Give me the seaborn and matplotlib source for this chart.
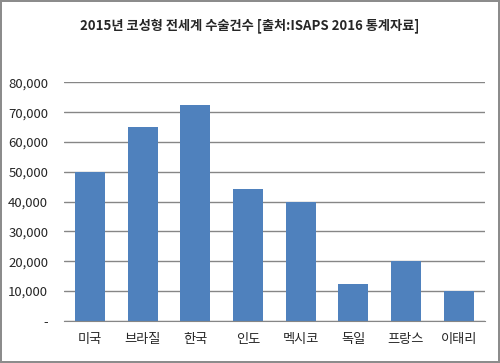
import matplotlib
matplotlib.use("Agg")
import matplotlib.pyplot as plt
import seaborn as sns
import pandas as pd
from matplotlib.ticker import FuncFormatter

# data
countries = ['미국', '브라질', '한국', '인도', '멕시코', '독일', '프랑스', '이태리']
surgeries = [50000, 65000, 72500, 44300, 40000, 12400, 20000, 10000]
y_ticks = [0, 10000, 20000, 30000, 40000, 50000, 60000, 70000, 80000]

df = pd.DataFrame({'country': countries, 'count': surgeries})

sns.set_style("white")
plt.rcParams['font.family'] = ['Noto Sans CJK KR', 'DejaVu Sans']

fig = plt.figure(figsize=(5, 3.63), dpi=100, linewidth=1.5, edgecolor='#8c8c8c')
ax = fig.add_axes([0.127, 0.116, 0.843, 0.657])

sns.barplot(data=df, x='country', y='count', color='#4F81BD', saturation=1,
            width=0.57, linewidth=0, ax=ax)

ax.set_ylim(0, 80000)
ax.set_yticks(y_ticks)
ax.yaxis.set_major_formatter(FuncFormatter(lambda v, p: '-' if v == 0 else f'{int(v):,}'))
ax.grid(axis='y', color='#868686', linewidth=1)
ax.set_axisbelow(True)
for s in ['top', 'right', 'left']:
    ax.spines[s].set_visible(False)
ax.spines['bottom'].set_color('#868686')
ax.tick_params(axis='both', length=0, labelsize=9.5)
ax.tick_params(axis='y', pad=11)
ax.tick_params(axis='x', pad=9)
ax.set_xlabel('')
ax.set_ylabel('')

fig.suptitle('2015년 코성형 전세계 수술건수 [출처:ISAPS 2016 통계자료]',
             x=0.5, y=0.95, fontsize=9.5, fontweight='bold')

fig.savefig('out.png', dpi=100)
